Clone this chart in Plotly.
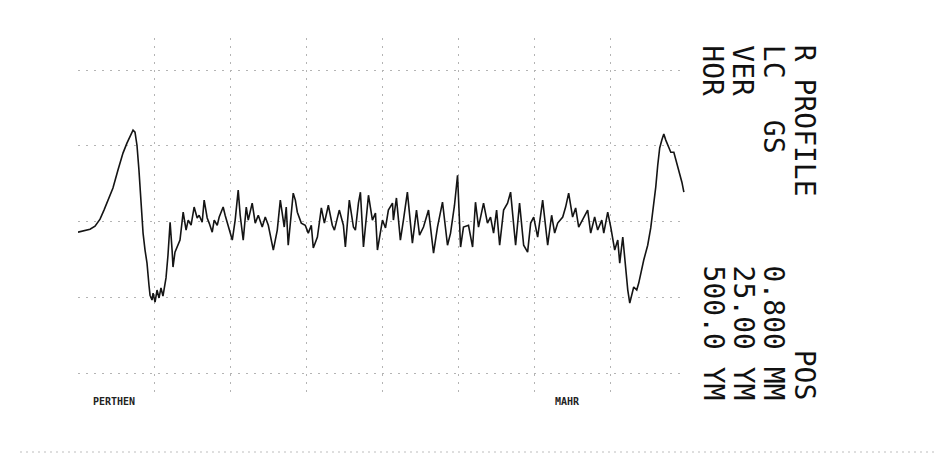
import plotly.graph_objects as go

# Roughness (R) profile, Perthen/Mahr plot: position along trace (um) and height (um)
profile_x_um = [
    0, 40, 79, 112, 145, 171, 197, 230, 263, 296, 322, 342, 362, 375, 388, 401, 415, 428,
    441, 454, 467, 474, 487, 494, 507, 520, 533, 546, 559, 579, 592, 606, 619, 625, 638,
    652, 671, 692, 711, 725, 744, 764, 784, 797, 817, 830, 850, 863, 883, 896, 916, 929,
    955, 968, 988, 1015, 1034, 1054, 1067, 1087, 1107, 1120, 1146, 1166, 1186, 1212, 1232,
    1252, 1285, 1311, 1331, 1357, 1370, 1383, 1416, 1430, 1443, 1469, 1495, 1515, 1535,
    1548, 1575, 1601, 1621, 1647, 1673, 1687, 1719, 1746, 1759, 1785, 1812, 1825, 1845,
    1858, 1878, 1911, 1937, 1957, 1970, 2003, 2023, 2042, 2069, 2075, 2095, 2121, 2141,
    2167, 2200, 2227, 2247, 2273, 2306, 2339, 2365, 2398, 2431, 2451, 2477, 2497, 2517,
    2536, 2569, 2596, 2615, 2635, 2668, 2694, 2714, 2734, 2754, 2774, 2800, 2826, 2846,
    2879, 2905, 2932, 2958, 2978, 2998, 3024, 3057, 3077, 3090, 3116, 3136, 3156, 3189,
    3208, 3228, 3254, 3274, 3294, 3327, 3353, 3373, 3399, 3419, 3446, 3459, 3485, 3505,
    3531, 3551, 3564, 3584, 3604, 3617, 3630, 3643, 3656, 3676, 3689, 3722, 3748, 3768,
    3788, 3801, 3814, 3827, 3841, 3854, 3867, 3887, 3900, 3920, 3939, 3959, 3973, 3986,
]
profile_z_um = [
    -3.5, -3.1, -2.5, -1.5, 0.8, 3.8, 7.1, 11.1, 17.0, 22.6, 25.9, 28.2, 30.2, 29.5, 25.2,
    17.0, 7.1, -3.8, -9.4, -13.7, -21.0, -24.3, -25.9, -23.6, -26.6, -22.6, -25.2, -21.9,
    -24.6, -18.6, -11.1, -0.2, -9.4, -15.0, -10.1, -8.4, -6.1, 3.1, -2.8, 0.5, -1.2, 4.8,
    1.2, 2.1, -0.2, 7.1, 1.2, -0.5, -3.5, 0.5, -1.2, 1.5, 4.8, 2.1, -1.8, -6.1, 0.5, 10.4,
    2.1, -6.1, 4.8, 0.5, 6.1, -0.5, 2.1, -1.8, 1.5, -1.2, -9.4, -2.8, 7.1, -1.8, 4.8, -7.8,
    9.4, 7.1, 3.1, -0.5, -1.2, -3.8, -1.2, -8.7, -5.1, 4.5, -0.5, 5.4, -1.2, -2.8, 3.8,
    -1.2, -8.4, 7.1, -1.8, -2.8, 6.1, 9.7, -8.4, 8.7, 0.5, 2.8, -9.4, 0.5, -2.1, 3.8, 6.1,
    0.5, 7.8, -6.1, 0.5, 9.7, -7.1, 3.8, -4.5, -1.8, 3.8, -10.4, -1.8, 6.4, -7.8, -3.8, 5.4,
    15.3, -8.4, -1.8, -1.2, -8.4, 6.4, -1.8, 6.1, -0.5, 1.5, -3.8, 3.8, -7.8, 3.8, 6.1, 9.7,
    -7.8, 6.1, -7.8, -10.1, -0.5, 1.5, -5.1, 7.1, -2.8, -7.8, 2.1, -3.8, -0.5, 1.5, 4.8, 9.4,
    1.5, 4.5, -1.8, 1.5, 3.8, -3.8, 1.5, -2.8, 0.5, -3.8, 3.1, -1.8, -9.4, -6.1, -13.7, -5.1,
    -17.0, -22.6, -26.9, -24.3, -21.6, -22.6, -20.3, -12.7, -7.8, -2.1, 5.4, 11.4, 18.6,
    24.3, 26.9, 28.9, 26.9, 24.3, 22.9, 22.9, 19.6, 15.3, 13.0, 9.7,
]

# Chart grid: 500 um per horizontal division, 25 um per vertical division
x_ticks = [0, 500, 1000, 1500, 2000, 2500, 3000, 3500]
y_ticks = [-50, -25, 0, 25, 50]
x_range = [0, 4000]
y_range = [-57.9, 60.6]

# Plotter header block (reads top to bottom)
header_left = ["R PROFILE", "LC", "VER", "HOR"]
header_right = ["POS", "0.800 MM", "25.00 YM", "500.0 YM"]
header_extra = "GS"
maker_labels = ["PERTHEN", "MAHR"]

W, H = 935, 460
L, R, T, B = 78, 249, 38, 63
plot_w, plot_h = W - L - R, H - T - B


def px_to_paper(px, py):
    return (px - L) / plot_w, (H - B - py) / plot_h


fig = go.Figure()
fig.add_trace(go.Scatter(
    x=profile_x_um, y=profile_z_um, mode="lines",
    line=dict(color="#141414", width=1.6), hoverinfo="skip",
))

grid = dict(showgrid=True, gridcolor="#b4b4b4", gridwidth=1.4, griddash="2px,6px",
            zeroline=False, showline=False, showticklabels=False, ticks="")
fig.update_xaxes(range=x_range, tickvals=x_ticks, **grid)
fig.update_yaxes(range=y_range, tickvals=y_ticks, **grid)

mono = "DejaVu Sans Mono"
fs = 28
pitch = 0.602 * fs
col_x = [804, 773, 743, 713]
annotations = []


def rotated(text, cx, cy, size=fs, color="#111111"):
    x, y = px_to_paper(cx, cy)
    annotations.append(dict(
        text=text, x=x, y=y, xref="paper", yref="paper", showarrow=False,
        textangle=90, xanchor="center", yanchor="middle",
        font=dict(family=mono, size=size, color=color),
    ))


# labels starting at the top of each column
for i, txt in enumerate(header_left):
    rotated(txt, col_x[i], 45 + len(txt) * pitch / 2)
rotated(header_extra, col_x[1], 120 + len(header_extra) * pitch / 2)
# values ending at the bottom of each column
for i, txt in enumerate(header_right):
    rotated(txt, col_x[i], 400 - len(txt) * pitch / 2)

# small maker imprints under the grid
for txt, (cx, cy) in zip(maker_labels, [(114, 401), (567, 401)]):
    x, y = px_to_paper(cx, cy)
    annotations.append(dict(
        text=txt, x=x, y=y, xref="paper", yref="paper", showarrow=False,
        xanchor="center", yanchor="middle",
        font=dict(family=mono, size=10, color="#222222", weight="bold"),
    ))

# faint dotted edge line near the bottom of the sheet
y_edge = px_to_paper(0, 452)[1]
fig.add_shape(type="line", xref="paper", yref="paper",
              x0=px_to_paper(20, 0)[0], x1=px_to_paper(935, 0)[0], y0=y_edge, y1=y_edge,
              line=dict(color="#d4d4d4", width=1.5, dash="2px,4px"))

fig.update_layout(
    width=W, height=H,
    margin=dict(l=L, r=R, t=T, b=B, pad=0),
    paper_bgcolor="white", plot_bgcolor="white",
    showlegend=False, annotations=annotations,
)

fig.write_html("out.html", config={"displayModeBar": False})
